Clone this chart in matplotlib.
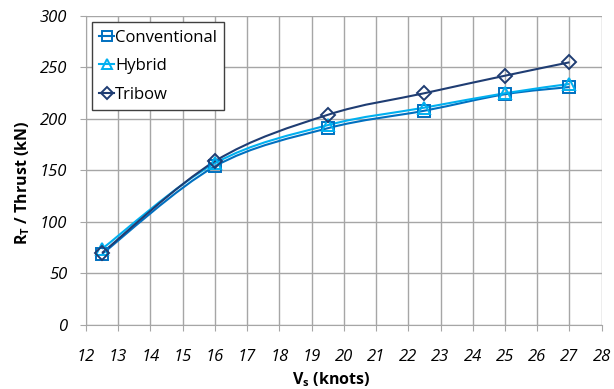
import matplotlib
matplotlib.use("Agg")
import matplotlib.pyplot as plt
import numpy as np
from matplotlib.path import Path
from matplotlib.patches import PathPatch
from matplotlib.lines import Line2D

speed = [12.5, 16, 19.5, 22.5, 25, 27]
conventional = [69, 154, 191, 208, 224, 231]
hybrid = [74, 157, 194, 211, 225, 234]
tribow = [70, 159, 204, 225, 242, 255]

series = [("Conventional", conventional, "#0070C0", "s"),
          ("Hybrid", hybrid, "#00B0F0", "^"),
          ("Tribow", tribow, "#1F3D73", "D")]

plt.rcParams["font.family"] = ["Open Sans", "DejaVu Sans"]

def smooth_path(x, y):
    # excel-like smoothed line: cubic bezier through the points
    x = np.asarray(x, float); y = np.asarray(y, float)
    verts = [(x[0], y[0])]; codes = [Path.MOVETO]
    n = len(x)
    for i in range(n - 1):
        p0 = i - 1 if i > 0 else i
        p3 = i + 2 if i + 2 < n else i + 1
        c1 = (x[i] + (x[i+1] - x[p0]) / 6, y[i] + (y[i+1] - y[p0]) / 6)
        c2 = (x[i+1] - (x[p3] - x[i]) / 6, y[i+1] - (y[p3] - y[i]) / 6)
        verts += [c1, c2, (x[i+1], y[i+1])]
        codes += [Path.CURVE4] * 3
    return Path(verts, codes)

fig = plt.figure(figsize=(6.14, 3.89), dpi=100)
ax = fig.add_axes([0.140, 0.1645, 0.840, 0.7945])

handles = []
for name, vals, col, mk in series:
    ax.add_patch(PathPatch(smooth_path(speed, vals), fc="none", ec=col, lw=1.5, zorder=3))
    ms = 8 if mk != "D" else 7
    ax.plot(speed, vals, ls="none", marker=mk, ms=ms, mfc="none", mec=col, mew=1.4, zorder=4)
    handles.append(Line2D([], [], color=col, lw=1.5, marker=mk, ms=ms - 1, mfc="none", mec=col, mew=1.4))

ax.set_xlim(12, 28)
ax.set_ylim(0, 300)
ax.set_xticks(range(12, 29))
ax.set_yticks(range(0, 301, 50))
ax.grid(True, color="#A6A6A6", lw=1.0)
ax.set_axisbelow(True)
for s in ax.spines.values():
    s.set_visible(False)
ax.spines["left"].set_visible(True)
ax.spines["bottom"].set_visible(True)
ax.spines["left"].set_color("#A6A6A6")
ax.spines["bottom"].set_color("#A6A6A6")
ax.tick_params(direction="out", length=4.5, color="#A6A6A6", labelsize=12)
ax.tick_params(axis="y", pad=9)
ax.tick_params(axis="x", pad=13)
for lab in ax.get_xticklabels() + ax.get_yticklabels():
    lab.set_fontstyle("italic")

ax.set_xlabel(r"V$_\mathregular{s}$ (knots)", fontsize=11.5, fontweight="bold")
ax.set_ylabel(r"R$_\mathregular{T}$ / Thrust (kN)", fontsize=11.5, fontweight="bold")
ax.xaxis.set_label_coords(0.475, -0.147)
ax.yaxis.set_label_coords(-0.104, 0.46)

leg = ax.legend(handles, [s[0] for s in series], loc="upper left", bbox_to_anchor=(0.011, 0.98),
                fontsize=12, handlelength=0.9, handletextpad=0.05, labelspacing=0.75,
                borderpad=0.45, borderaxespad=0, fancybox=False, framealpha=1, edgecolor="#404040")
leg.get_frame().set_linewidth(1.0)

fig.savefig("out.png", dpi=100)
